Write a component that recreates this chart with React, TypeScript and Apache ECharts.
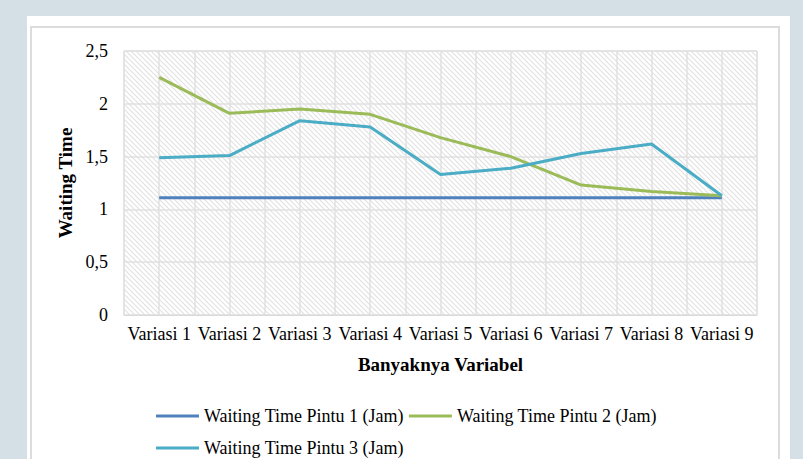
import React, { useEffect, useRef } from "react";
import * as echarts from "echarts";

const categories = ["Variasi 1", "Variasi 2", "Variasi 3", "Variasi 4", "Variasi 5", "Variasi 6", "Variasi 7", "Variasi 8", "Variasi 9"];
const pintu1 = [1.11, 1.11, 1.11, 1.11, 1.11, 1.11, 1.11, 1.11, 1.11];
const pintu2 = [2.25, 1.91, 1.95, 1.9, 1.68, 1.5, 1.23, 1.17, 1.13];
const pintu3 = [1.49, 1.51, 1.84, 1.78, 1.33, 1.39, 1.53, 1.62, 1.13];
const seriesNames = ["Waiting Time Pintu 1 (Jam)", "Waiting Time Pintu 2 (Jam)", "Waiting Time Pintu 3 (Jam)"];
const yTicks = { min: 0, max: 2.5, interval: 0.5 };

const FONT = "'Liberation Serif', 'Times New Roman', serif";

function makeHatch(): HTMLCanvasElement {
  const c = document.createElement("canvas");
  c.width = 5;
  c.height = 5;
  const ctx = c.getContext("2d")!;
  ctx.fillStyle = "#ffffff";
  ctx.fillRect(0, 0, 5, 5);
  ctx.strokeStyle = "#e2e2e2";
  ctx.lineWidth = 1.2;
  for (let k = -1; k <= 1; k++) {
    ctx.beginPath();
    ctx.moveTo(-1, -1 + k * 5);
    ctx.lineTo(6, 6 + k * 5);
    ctx.stroke();
  }
  return c;
}

export default function App() {
  const ref = useRef<HTMLDivElement>(null);
  useEffect(() => {
    document.body.style.margin = "0";
    const chart = echarts.init(ref.current!, null, { renderer: "svg" });
    const hatch = makeHatch();
    chart.setOption({
      animation: false,
      backgroundColor: "#d4e0e6",
      graphic: [
        { type: "rect", shape: { x: 27, y: 16, width: 763, height: 460 }, style: { fill: "#ffffff" }, z: -10 },
        { type: "rect", shape: { x: 31, y: 27, width: 748, height: 460 }, style: { fill: "none", stroke: "#dcdcdc", lineWidth: 2 }, z: -9 },
      ],
      grid: {
        left: 124,
        right: 46,
        top: 51,
        bottom: 144,
        show: true,
        backgroundColor: { image: hatch, repeat: "repeat" },
        borderColor: "#dedede",
        borderWidth: 1,
      },
      legend: [
        {
          data: [seriesNames[0], seriesNames[1]],
          left: 151,
          top: 402,
          icon: "rect",
          itemWidth: 43,
          itemHeight: 3,
          itemGap: 5,
          textStyle: { fontFamily: FONT, fontSize: 18, color: "#000" },
        },
        {
          data: [seriesNames[2]],
          left: 151,
          top: 434,
          icon: "rect",
          itemWidth: 43,
          itemHeight: 3,
          itemGap: 5,
          textStyle: { fontFamily: FONT, fontSize: 18, color: "#000" },
        },
      ],
      xAxis: [
        {
          type: "category",
          data: categories,
          boundaryGap: true,
          name: "Banyaknya Variabel",
          nameLocation: "middle",
          nameGap: 40,
          nameTextStyle: { fontFamily: FONT, fontSize: 19, fontWeight: "bold", color: "#000" },
          axisLine: { show: true, lineStyle: { color: "#d9d9d9" } },
          axisTick: { show: false },
          axisLabel: { interval: 0, fontFamily: FONT, fontSize: 18, color: "#000", margin: 10 },
          splitLine: { show: false },
        },
        {
          type: "value",
          min: 0,
          max: 18,
          interval: 1,
          position: "bottom",
          show: true,
          axisLine: { show: false },
          axisTick: { show: false },
          axisLabel: { show: false },
          splitLine: { show: true, lineStyle: { color: "#e0e0e0", width: 1.5 } },
        },
      ],
      yAxis: {
        type: "value",
        min: yTicks.min,
        max: yTicks.max,
        interval: yTicks.interval,
        name: "Waiting Time",
        nameLocation: "middle",
        nameGap: 46,
        nameTextStyle: { fontFamily: FONT, fontSize: 19, fontWeight: "bold", color: "#000" },
        axisLine: { show: false },
        axisTick: { show: false },
        axisLabel: {
          fontFamily: FONT,
          fontSize: 18,
          color: "#000",
          margin: 16,
          formatter: (v: number) => String(v).replace(".", ","),
        },
        splitLine: { show: true, lineStyle: { color: "#e0e0e0", width: 1.5 } },
      },
      series: [
        { name: seriesNames[0], type: "line", data: pintu1, xAxisIndex: 0, symbol: "none", lineStyle: { width: 3, color: "#4f81bd" }, itemStyle: { color: "#4f81bd" }, z: 3 },
        { name: seriesNames[1], type: "line", data: pintu2, xAxisIndex: 0, symbol: "none", lineStyle: { width: 3, color: "#9bbb59" }, itemStyle: { color: "#9bbb59" }, z: 4 },
        { name: seriesNames[2], type: "line", data: pintu3, xAxisIndex: 0, symbol: "none", lineStyle: { width: 3, color: "#4bacc6" }, itemStyle: { color: "#4bacc6" }, z: 5 },
      ],
    });
    return () => chart.dispose();
  }, []);
  return <div ref={ref} style={{ width: 803, height: 459 }} />;
}
